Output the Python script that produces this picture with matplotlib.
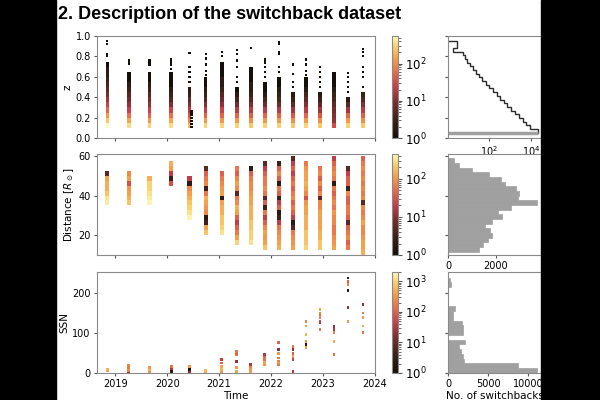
import numpy as np
import matplotlib.pyplot as plt
from matplotlib.colors import LogNorm, LinearSegmentedColormap
from matplotlib.patches import Rectangle

# PSP encounter times (decimal year)
enc_time = [2018.85, 2019.26, 2019.66, 2020.08, 2020.43, 2020.74, 2021.05, 2021.34, 2021.61,
            2021.88, 2022.15, 2022.42, 2022.67, 2022.94, 2023.21, 2023.48, 2023.77]

# z histogram, bins of 0.05 starting at z = 0.10 (dense part of each column)
z_counts = [
    [600, 250, 120, 50, 25, 14, 9, 6, 4, 3, 2, 2, 1],
    [350, 150, 60, 25, 12, 8, 5, 3, 2, 1, 1],
    [300, 120, 50, 25, 12, 8, 5, 3, 2, 1, 1],
    [350, 150, 60, 25, 10, 5, 3, 2, 1, 1, 1],
    [200, 80, 40, 20, 10, 6, 3, 2],
    [300, 120, 50, 22, 10, 5, 3, 2, 1, 1],
    [300, 120, 50, 25, 12, 7, 5, 3, 2, 2, 1, 1, 1],
    [300, 120, 50, 20, 8, 4, 2, 1],
    [250, 100, 45, 20, 9, 5, 3, 2, 2, 1, 1, 1],
    [300, 120, 50, 20, 8, 4, 2, 1, 1],
    [300, 120, 50, 20, 8, 4, 3, 2, 1, 1],
    [250, 100, 40, 15, 6, 3, 2],
    [300, 120, 50, 20, 10, 6, 4, 2, 1, 1],
    [250, 100, 40, 15, 6, 3, 2],
    [30, 12, 10, 8, 6, 4, 3, 2, 1, 1, 1],
    [300, 120, 50, 15, 5, 2],
    [250, 100, 45, 20, 10, 5, 3],
]
# single switchbacks above the dense part (time, z)
z_dot_t = [2018.85, 2018.85, 2018.85, 2018.85, 2019.26, 2019.26, 2019.66, 2019.66, 2019.66,
           2020.08, 2020.08, 2020.08, 2020.08, 2020.43, 2020.43, 2020.43, 2020.43, 2020.43,
           2020.47, 2020.47, 2020.47, 2020.47, 2020.47, 2020.47,
           2020.74, 2020.74, 2020.74, 2020.74, 2020.74, 2021.05, 2021.05,
           2021.34, 2021.34, 2021.34, 2021.34, 2021.34, 2021.34, 2021.61,
           2021.88, 2021.88, 2021.88, 2021.88, 2021.88,
           2022.15, 2022.15, 2022.15, 2022.15, 2022.15, 2022.15,
           2022.42, 2022.42, 2022.42, 2022.42, 2022.67, 2022.67, 2022.67, 2022.67,
           2022.94, 2022.94, 2022.94, 2022.94, 2022.94,
           2023.48, 2023.48, 2023.48, 2023.48, 2023.48,
           2023.77, 2023.77, 2023.77, 2023.77, 2023.77, 2023.77, 2023.77]
z_dot_z = [0.80, 0.82, 0.92, 0.95, 0.73, 0.76, 0.72, 0.74, 0.76,
           0.68, 0.72, 0.75, 0.77, 0.55, 0.60, 0.65, 0.70, 0.83,
           0.11, 0.14, 0.17, 0.20, 0.23, 0.26,
           0.62, 0.66, 0.72, 0.78, 0.82, 0.80, 0.84,
           0.55, 0.60, 0.70, 0.76, 0.82, 0.86, 0.88,
           0.60, 0.65, 0.70, 0.74, 0.77,
           0.65, 0.70, 0.82, 0.84, 0.92, 0.94,
           0.50, 0.55, 0.63, 0.72, 0.62, 0.66, 0.72, 0.77,
           0.50, 0.55, 0.60, 0.65, 0.70,
           0.45, 0.50, 0.55, 0.60, 0.64,
           0.50, 0.60, 0.65, 0.70, 0.80, 0.84, 0.87]

# distance histogram, bins of 2.5 R_sun, first bin edge per encounter
dist_start = [35, 35, 35, 45, 27.5, 20, 20, 15, 15, 12.5, 12.5, 12.5, 12.5, 12.5, 12.5, 12.5, 10]
dist_counts = [
    [350, 300, 200, 150, 150, 120, 5],
    [200, 150, 120, 100, 30, 120, 80],
    [400, 350, 300, 250, 250, 150],
    [30, 3, 20, 120, 150],
    [400, 300, 250, 200, 150, 120, 80, 2, 20],
    [200, 120, 3, 2, 80, 100, 120, 150, 60, 3, 80, 60, 40, 5],
    [300, 250, 200, 200, 150, 150, 120, 2, 120, 100, 80, 60, 40],
    [250, 120, 60, 40, 20, 40, 120, 150, 80, 60, 5, 80, 120, 80, 40, 60],
    [300, 250, 250, 200, 200, 150, 150, 150, 120, 120, 100, 80, 80, 60, 40, 2],
    [200, 120, 100, 120, 80, 40, 20, 60, 3, 40, 5, 60, 80, 60, 60, 40, 20, 5],
    [150, 120, 100, 80, 60, 20, 3, 2, 40, 20, 3, 40, 60, 2, 40, 80, 40, 3],
    [120, 100, 80, 60, 5, 2, 20, 40, 60, 40, 80, 60, 40, 60, 40, 20, 40, 20, 5],
    [250, 200, 200, 200, 150, 150, 150, 120, 120, 100, 30, 80, 120, 150, 120, 120, 100, 60],
    [200, 200, 150, 150, 120, 120, 120, 120, 80, 80, 5, 80, 40, 80, 40, 80, 60],
    [120, 100, 80, 60, 60, 80, 80, 100, 60, 80, 60, 40, 60, 2, 60, 80, 60, 40, 20],
    [60, 40, 80, 60, 40, 5, 40, 60, 60, 40, 40, 80, 3, 40, 40, 20, 5],
    [150, 120, 120, 100, 80, 80, 120, 80, 60, 80, 5, 80, 60, 80, 60, 80, 60, 80, 60, 40],
]

# sunspot number cells (time, SSN, count)
ssn_t = [2018.85, 2018.85,
         2019.26, 2019.26, 2019.26, 2019.26, 2019.26,
         2019.66, 2019.66, 2019.66,
         2020.08, 2020.08, 2020.08, 2020.08,
         2020.43, 2020.43, 2020.43, 2020.43,
         2020.74, 2020.74,
         2021.05, 2021.05, 2021.05, 2021.05, 2021.05,
         2021.34, 2021.34, 2021.34, 2021.34, 2021.34, 2021.34,
         2021.61, 2021.61, 2021.61, 2021.61, 2021.61,
         2021.88, 2021.88, 2021.88, 2021.88, 2021.88,
         2022.15, 2022.15, 2022.15, 2022.15, 2022.15, 2022.15, 2022.15,
         2022.42, 2022.42, 2022.42, 2022.42, 2022.42, 2022.42,
         2022.67, 2022.67, 2022.67, 2022.67, 2022.67, 2022.67, 2022.67,
         2022.94, 2022.94, 2022.94, 2022.94, 2022.94, 2022.94, 2022.94,
         2023.21, 2023.21, 2023.21, 2023.21, 2023.21,
         2023.48, 2023.48, 2023.48, 2023.48, 2023.48, 2023.48,
         2023.77, 2023.77, 2023.77, 2023.77, 2023.77]
ssn_v = [5, 9,
         2, 6, 10, 14, 18,
         2, 8, 14,
         1, 4, 12, 17,
         2, 9, 12, 17,
         2, 6,
         2, 8, 17, 25, 34,
         4, 13, 29, 46, 50, 55,
         0, 4, 9, 17, 21,
         22, 27, 34, 40, 46,
         21, 25, 30, 38, 50, 59, 76,
         4, 34, 42, 50, 59, 67,
         63, 67, 71, 80, 97, 118, 130,
         109, 126, 130, 139, 147, 151, 160,
         46, 80, 101, 109, 117,
         130, 164, 207, 223, 231, 239,
         101, 118, 139, 151, 172]
ssn_n = [300, 500,
         20, 200, 300, 150, 200,
         300, 500, 300,
         30, 2, 30, 150,
         20, 2, 1, 300,
         400, 600,
         300, 500, 400, 100, 40,
         400, 300, 20, 200, 100, 150,
         500, 400, 300, 200, 30,
         300, 400, 150, 100, 30,
         150, 300, 200, 150, 300, 20, 100,
         30, 40, 300, 100, 20, 150,
         300, 400, 2, 300, 500, 400, 200,
         150, 30, 50, 200, 150, 200, 400,
         150, 500, 200, 30, 20,
         300, 20, 2, 200, 100, 3,
         150, 400, 300, 200, 20]

# 1D histograms (right column)
zh_edges = [0.045] + list(np.linspace(0.088, 0.955, 25))
zh_counts = [21000, 9000, 6000, 4000, 2600, 1700, 1100, 750, 500, 330, 230, 150, 100,
             70, 48, 33, 24, 17, 12, 9, 7, 6, 2, 3, 3]
dh_edges = np.linspace(11.5, 58.8, 21)
dh_counts = [1290, 1450, 1670, 1830, 1740, 1530, 1850, 2260, 2090, 2630,
             3740, 2910, 2970, 2840, 2400, 2200, 1710, 990, 470, 250]
sh_edges = np.arange(0, 241, 12)
sh_counts = [11100, 8700, 2000, 1880, 1670, 1420, 2170, 0, 1880, 1880,
             1750, 600, 600, 900, 0, 0, 0, 0, 400, 300]

# colour map black -> red -> orange -> pale yellow
cmap = LinearSegmentedColormap.from_list('sb', [
    (0.0, '#140f08'), (0.18, '#3a2218'), (0.35, '#7a2e2e'), (0.5, '#c4404a'),
    (0.65, '#e8704a'), (0.78, '#f3a04a'), (0.9, '#f8d070'), (1.0, '#fffac0')])

plt.rcParams['axes.edgecolor'] = '#8a8a8a'
plt.rcParams['xtick.color'] = '#555555'
plt.rcParams['ytick.color'] = '#555555'
plt.rcParams['xtick.labelcolor'] = 'black'
plt.rcParams['ytick.labelcolor'] = 'black'
plt.rcParams['xtick.labelsize'] = 7
plt.rcParams['ytick.labelsize'] = 7
plt.rcParams['xtick.major.size'] = 2.5
plt.rcParams['ytick.major.size'] = 2.5
plt.rcParams['xtick.major.pad'] = 2
plt.rcParams['ytick.major.pad'] = 2
plt.rcParams['axes.labelsize'] = 7.5

fig = plt.figure(figsize=(6, 4), dpi=100)

L, W = 97 / 600, 278 / 600
rows = [(1 - 138 / 400, 102 / 400), (1 - 255 / 400, 101 / 400), (1 - 373 / 400, 101 / 400)]
cb_x, cb_w = 392 / 600, 6 / 600
h_x, h_w = 448 / 600, 94 / 600

ax1 = fig.add_axes([L, rows[0][0], W, rows[0][1]])
ax2 = fig.add_axes([L, rows[1][0], W, rows[1][1]], sharex=ax1)
ax3 = fig.add_axes([L, rows[2][0], W, rows[2][1]], sharex=ax1)

norm1 = LogNorm(1, 550)
norm2 = LogNorm(1, 450)
norm3 = LogNorm(1, 2000)

# z panel
zw = 0.07
for t, c in zip(enc_time, z_counts):
    ye = 0.10 + 0.05 * np.arange(len(c) + 1)
    C = np.ma.masked_equal(np.array(c, float).reshape(-1, 1), 0)
    ax1.pcolormesh([t - zw / 2, t + zw / 2], ye, C, cmap=cmap, norm=norm1)
ax1.scatter(z_dot_t, z_dot_z, c=np.ones(len(z_dot_z)), cmap=cmap, norm=norm1,
            marker='s', s=2.5, linewidths=0)
ax1.set_ylim(0, 1)
ax1.set_ylabel('z', labelpad=2)
ax1.tick_params(labelbottom=False)

# distance panel
dw = 0.08
for t, s, c in zip(enc_time, dist_start, dist_counts):
    ye = s + 2.5 * np.arange(len(c) + 1)
    C = np.ma.masked_equal(np.array(c, float).reshape(-1, 1), 0)
    ax2.pcolormesh([t - dw / 2, t + dw / 2], ye, C, cmap=cmap, norm=norm2)
ax2.set_ylim(9.9, 61)
ax2.set_yticks([20, 40, 60])
ax2.set_ylabel(r'Distance [$R_\odot$]', labelpad=2)
ax2.tick_params(labelbottom=False)

# SSN panel
ax3.scatter(ssn_t, ssn_v, c=ssn_n, cmap=cmap, norm=norm3, marker='s', s=4, linewidths=0)
ax3.set_ylim(0, 254)
ax3.set_yticks([0, 100, 200])
ax3.set_ylabel('SSN', labelpad=2)
ax3.set_xlabel('Time', labelpad=1)
ax3.set_xlim(2018.65, 2024.0)
ax3.set_xticks([2019, 2020, 2021, 2022, 2023, 2024])
ax3.set_xticklabels(['2019', '2020', '2021', '2022', '2023', '2024'])

# colorbars
for (y0, h), nrm, ticks in zip(rows, [norm1, norm2, norm3], [[1, 10, 100], [1, 10, 100], [1, 10, 100, 1000]]):
    cax = fig.add_axes([cb_x, y0, cb_w, h])
    sm = plt.cm.ScalarMappable(norm=nrm, cmap=cmap)
    cb = fig.colorbar(sm, cax=cax)
    cb.set_ticks(ticks)
    cb.ax.tick_params(labelsize=8.5, length=3)
    cb.outline.set_edgecolor('#8a8a8a')

# right column histograms
hx1 = fig.add_axes([h_x, rows[0][0], h_w, rows[0][1]], sharey=ax1)
hx2 = fig.add_axes([h_x, rows[1][0], h_w, rows[1][1]], sharey=ax2)
hx3 = fig.add_axes([h_x, rows[2][0], h_w, rows[2][1]], sharey=ax3)

hx1.set_xscale('log')
hx1.hlines(zh_edges[0], 1.12, zh_counts[0], color='#a0a0a0', lw=2.5)
hx1.stairs(zh_counts, zh_edges, orientation='horizontal', baseline=1e-3, color='#2b2b2b', lw=1)
hx1.set_xlim(1.12, 3.3e4)
hx1.set_xticks([1e2, 1e4])
hx1.minorticks_off()

hx2.barh(dh_edges[:-1], dh_counts, height=np.diff(dh_edges), align='edge',
         color='#a0a0a0', edgecolor='#a0a0a0', lw=0.5)
hx2.set_xlim(0, 3930)
hx2.set_xticks([0, 2000])

hx3.barh(sh_edges[:-1], sh_counts, height=np.diff(sh_edges), align='edge',
         color='#a0a0a0', edgecolor='#a0a0a0', lw=0.5)
hx3.set_xlim(0, 11700)
hx3.set_xticks([0, 5000, 10000])
hx3.set_xlabel('No. of switchbacks', labelpad=1)

for hx in (hx1, hx2, hx3):
    hx.tick_params(labelleft=False)

# slide title
fig.text(58 / 600, 1 - 19 / 400, '2. Description of the switchback dataset', fontsize=13,
         fontweight='bold', family='Liberation Sans', va='baseline')

# black side bars of the slide
fig.add_artist(Rectangle((0, 0), 56 / 600, 1, transform=fig.transFigure, color='black', zorder=10))
fig.add_artist(Rectangle((541 / 600, 0), 59 / 600, 1, transform=fig.transFigure, color='black', zorder=10))

plt.savefig('out.png', dpi=100)
